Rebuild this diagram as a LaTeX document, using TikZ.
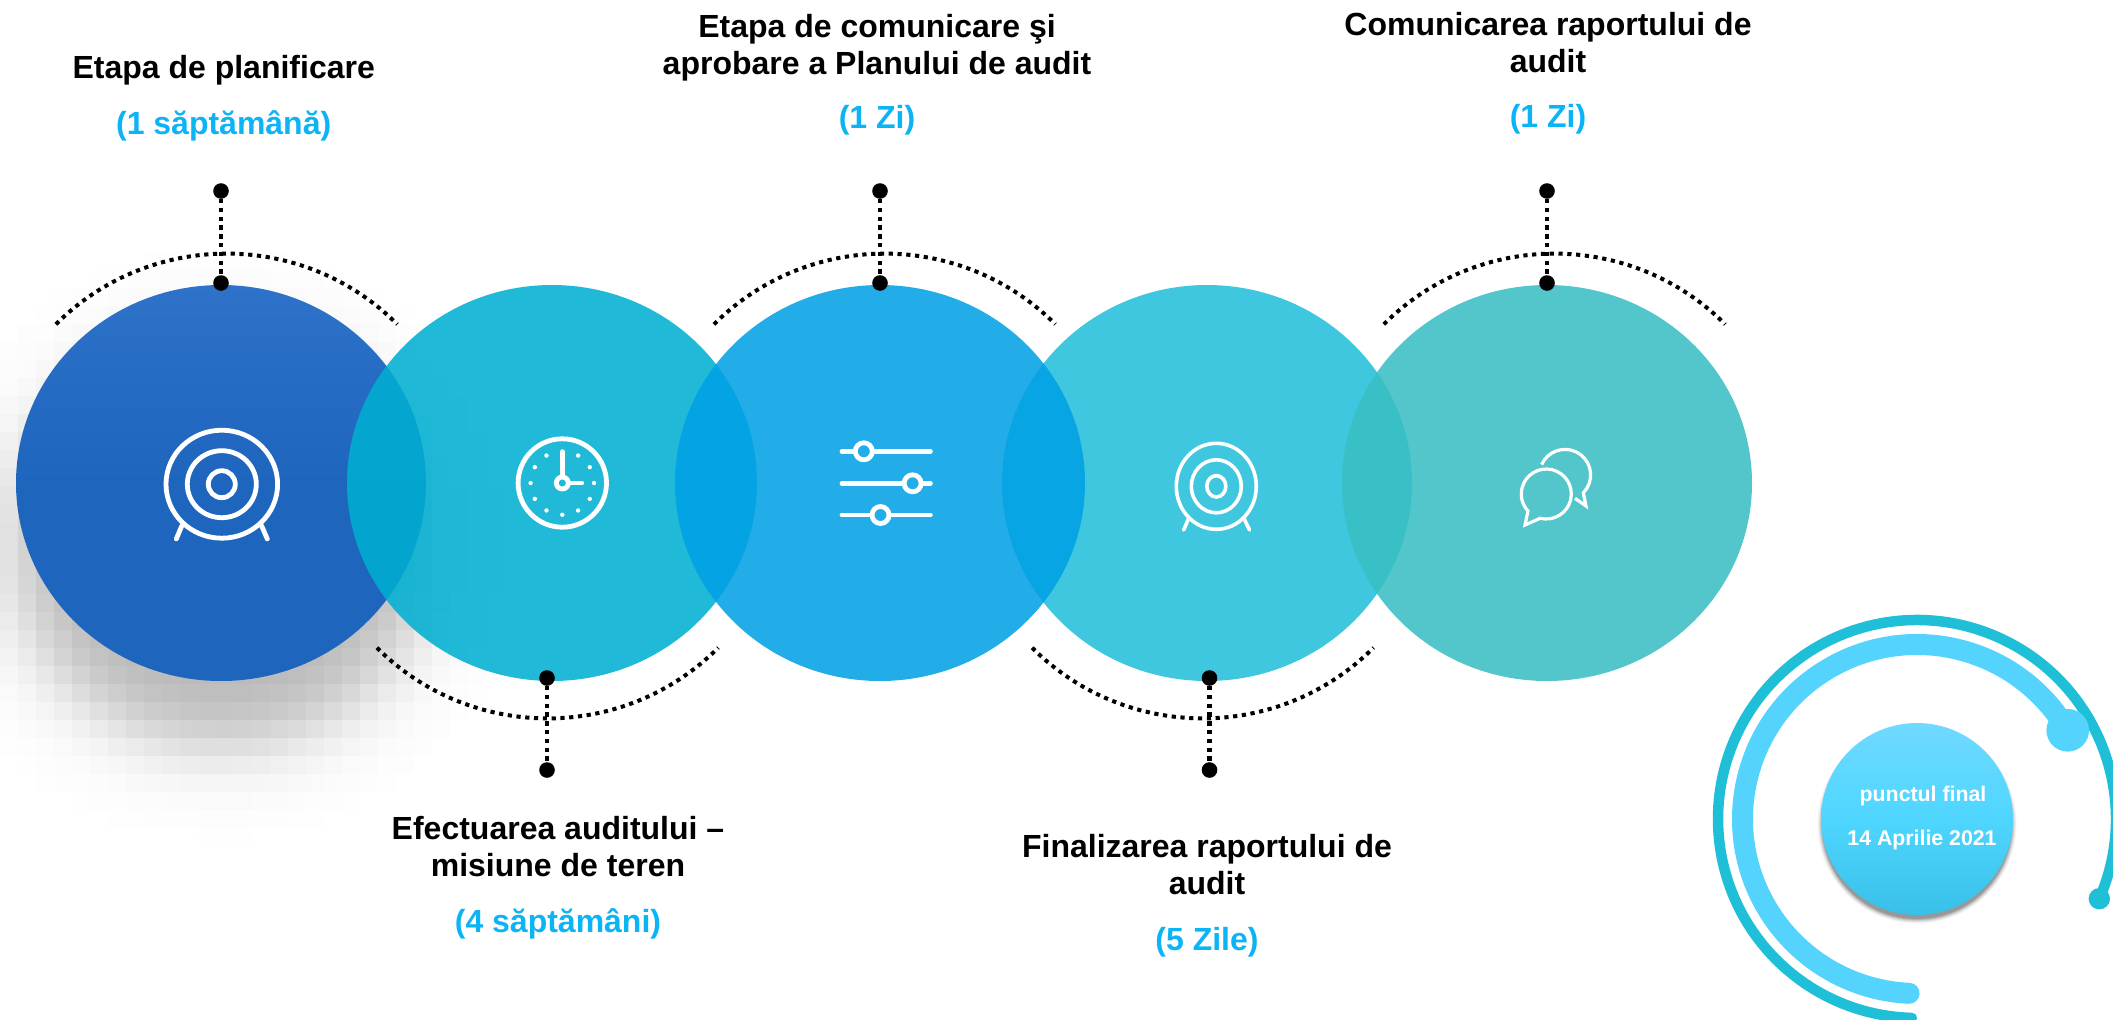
\documentclass[tikz,border=0pt]{standalone}
\usepackage{fontspec}
\setmainfont{Liberation Sans}
\usetikzlibrary{calc}
\definecolor{cA}{RGB}{30,101,190}
\definecolor{cAt}{RGB}{46,114,201}
\definecolor{cB}{RGB}{0,175,210}
\definecolor{cC}{RGB}{1,161,230}
\definecolor{cD}{RGB}{33,191,217}
\definecolor{cE}{RGB}{57,190,195}
\definecolor{bgC}{RGB}{34,173,233}
\definecolor{ringC}{RGB}{32,191,216}
\definecolor{bandC}{RGB}{84,212,253}
\definecolor{lab}{RGB}{12,180,245}
\definecolor{cTop}{RGB}{112,217,255}
\definecolor{cMid}{RGB}{78,214,255}
\definecolor{cBot}{RGB}{56,192,232}
\tikzset{
  x=1pt,y=-1pt,
  disc/.style={opacity=.87},
  pin/.style={circle,fill=black,inner sep=0pt,minimum size=15.6pt},
  pinline/.style={line width=4.4pt,dash pattern=on 4.4pt off 4.4pt},
  dotarc/.style={line width=4pt,dash pattern=on 4.2pt off 4.6pt},
  ico/.style={white,line width=4.8pt,line cap=round,line join=round},
  icothin/.style={white,line width=3.2pt,line cap=butt,line join=miter},
  head/.style={font=\bfseries\fontsize{32}{36.6}\selectfont,align=center,anchor=base,black},
  dur/.style={font=\bfseries\fontsize{32}{36.6}\selectfont,anchor=base,text=lab},
  fin/.style={font=\bfseries\fontsize{21.3}{24}\selectfont,anchor=base,text=white},
}
\begin{document}
\begin{tikzpicture}
\useasboundingbox (0,0) rectangle (2113,1020);
\clip (0,0) rectangle (2113,1020);
% blocky shadow of the first disc
\foreach \i in {0,...,27}{
  \foreach \j in {13,...,47}{
    \pgfmathsetmacro{\dx}{(\i*18+9-221)/205}
    \pgfmathsetmacro{\dy}{(\j*18+9-545)/198}
    \pgfmathsetmacro{\dd}{max(-8,200*(sqrt(\dx*\dx+\dy*\dy)-1)/22)}
    \pgfmathsetmacro{\lvl}{\dd>6?0:28/(1+exp(\dd))}
    \pgfmathparse{\lvl>0.35?1:0}
    \ifnum\pgfmathresult>0
      \fill[black!\lvl] (\i*18-.3,\j*18-.3) rectangle (\i*18+18.3,\j*18+18.3);
    \fi
  }
}
% discs
\shade[top color=cAt,bottom color=cA,middle color=cA] (221,483) ellipse [x radius=205,y radius=198];
\fill[disc,cB] (552,483) ellipse [x radius=205,y radius=198];
\fill[disc,cD] (1207,483) ellipse [x radius=205,y radius=198];
\fill[disc,cC] (880,483) ellipse [x radius=205,y radius=198];
\fill[disc,cE] (1547,483) ellipse [x radius=205,y radius=198];
% dotted arcs
\foreach \c in {226.6,884.7,1554.5}{
  \draw[dotarc] (\c,495) ++(135:241.4 and -241.4) arc [start angle=135,end angle=45,x radius=241.4,y radius=-241.4];
}
\foreach \c in {547.6,1202.8}{
  \draw[dotarc] (\c,477) ++(-135:241.4 and -241.4) arc [start angle=-135,end angle=-45,x radius=241.4,y radius=-241.4];
}
% pins
\node[pin] (a1) at (221,191) {}; \node[pin] (a2) at (221,283) {};
\node[pin] (c1) at (880,191) {}; \node[pin] (c2) at (880,283) {};
\node[pin] (e1) at (1547,191) {}; \node[pin] (e2) at (1547,283) {};
\node[pin] (b1) at (547,678) {}; \node[pin] (b2) at (547,770) {};
\node[pin] (d1) at (1209.5,678) {}; \node[pin] (d2) at (1209.5,770) {};
\draw[pinline] (a1) -- (a2);
\draw[pinline] (c1) -- (c2);
\draw[pinline] (e1) -- (e2);
\draw[pinline] (b1) -- (b2);
\draw[pinline] (d1) -- (d2);
% target icon
\begin{scope}[ico]
\draw (221.8,484.2) ellipse [x radius=55.8,y radius=54];
\draw (221.8,484.2) ellipse [x radius=34.5,y radius=33.5];
\draw (221.8,484.2) ellipse [x radius=13.5,y radius=13.5];
\draw (181.7,526) -- (176.3,539);
\draw (261.7,526) -- (267.3,539);
\end{scope}
% clock icon
\begin{scope}[ico]
\draw (562.3,483) circle (44.2);
\draw (562.3,483) circle (6);
\draw (562.3,477) -- (562.3,451.7);
\draw (568.3,483) -- (581.7,483);
\foreach \a in {30,60,...,330}{
  \fill[white,draw=none] ($(562.3,483)+(90+\a:31.7 and -31.7)$) circle (2.2);
}
\end{scope}
% sliders icon
\begin{scope}[ico]
\draw (842,451.3) -- (930.4,451.3);
\draw (842,483.3) -- (930.4,483.3);
\draw (842,515) -- (930.4,515);
\draw[fill=bgC] (863.8,451.3) circle (8.5);
\draw[fill=bgC] (912.6,483.3) circle (8.5);
\draw[fill=bgC] (880.5,515) circle (8.5);
\end{scope}
% small target icon
\begin{scope}[ico,line width=3.6pt]
\draw (1216.3,486.3) ellipse [x radius=40,y radius=43];
\draw (1216.3,486.3) ellipse [x radius=25,y radius=26.5];
\draw (1216.3,486.3) ellipse [x radius=9.5,y radius=10.7];
\draw (1188.7,518.3) -- (1183.6,530);
\draw (1243.8,518.3) -- (1249.6,530);
\end{scope}
% speech bubbles icon
\begin{scope}[icothin]
\draw (1546.3,494) ++(256:25 and -25) arc [start angle=256,end angle=582.8,x radius=25,y radius=-25] -- (1525,525) -- cycle;
\draw (1565,475) ++(156:25.6 and -25.6) arc [start angle=156,end angle=-44.4,x radius=25.6,y radius=-25.6] -- (1586,506) -- (1575,498.3);
\end{scope}
% final marker
\foreach \k/\o in {6/.04,5/.05,4/.07,3/.09,2/.11,1/.13}{
  \fill[black,opacity=\o] (1917,824) circle (94+\k*.9);
}
\shade[top color=cTop,bottom color=cBot,middle color=cMid] (1917,819) circle (96);
\draw[ringC,line width=10.5pt,line cap=round] (1917,819) ++(-23.7:199 and -199) arc [start angle=-23.7,end angle=268.5,x radius=199,y radius=-199];
\draw[bandC,line width=21pt,line cap=round] (1917,819) ++(30.5:174.5 and -174.5) arc [start angle=30.5,end angle=267.4,x radius=174.5,y radius=-174.5];
\fill[bandC] (2067.7,730.3) circle (21.3);
\fill[ringC] (2099.3,898.7) circle (10.7);
% labels
\node[head] (t1) at (223.7,78) {Etapa de planificare};
\node[dur] (t1d) at (223.7,134.5) {(1 săptămână)};
\node[head] (t3) at (877,74.5) {Etapa de comunicare şi\\aprobare a Planului de audit};
\node[dur] (t3d) at (877,128) {(1 Zi)};
\node[head] (t5) at (1548,72.5) {Comunicarea raportului de\\audit};
\node[dur] (t5d) at (1548,127) {(1 Zi)};
\node[head] (t2) at (558,876.4) {Efectuarea auditului –\\misiune de teren};
\node[dur] (t2d) at (558,932) {(4 săptămâni)};
\node[head] (t4) at (1207,894) {Finalizarea raportului de\\audit};
\node[dur] (t4d) at (1207,950) {(5 Zile)};
\node[fin] (f1) at (1923,801) {punctul final};
\node[fin] (f2) at (1922,845.5) {14 Aprilie 2021};
\end{tikzpicture}
\end{document}
